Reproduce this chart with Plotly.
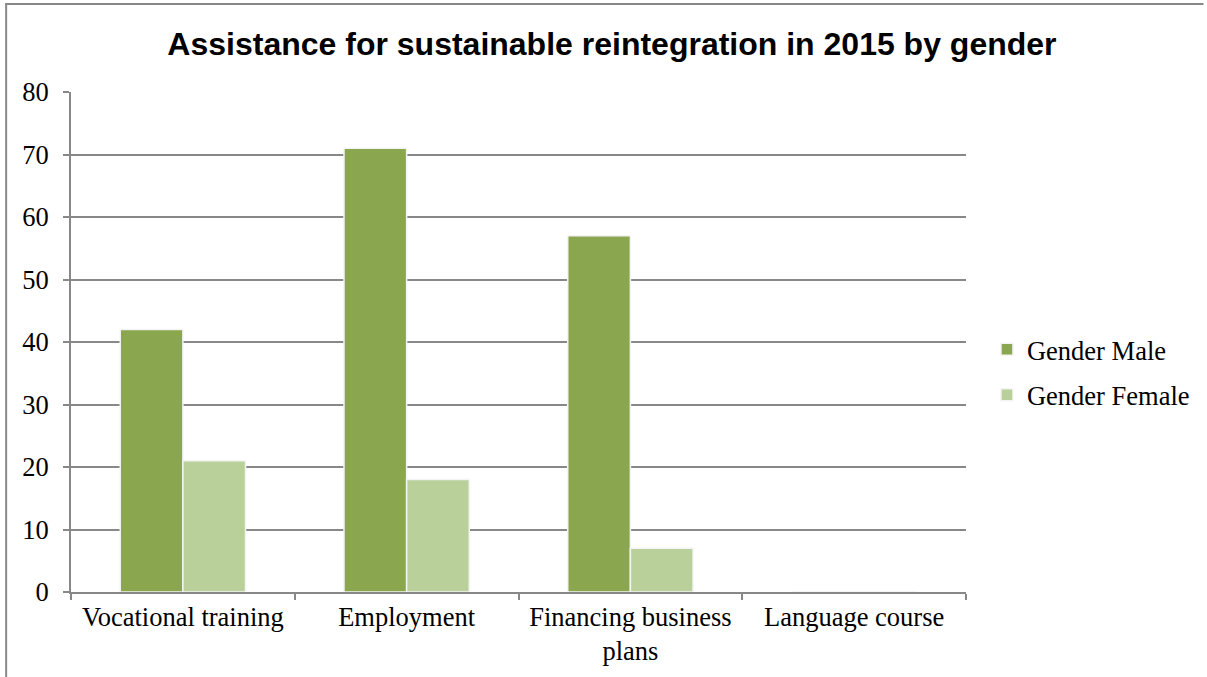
import plotly.graph_objects as go

# Assistance categories and counts per gender
categories = ["Vocational training", "Employment", "Financing business<br>plans", "Language course"]
male_values = [42, 71, 57, 0]
female_values = [21, 18, 7, 0]
y_ticks = [0, 10, 20, 30, 40, 50, 60, 70, 80]

MALE_COLOR = "#8AA64E"
FEMALE_COLOR = "#B9D09A"
GRID = "#888888"
SERIF = "Liberation Serif, Times New Roman, serif"
SANS = "Liberation Sans, Arial, sans-serif"
FS = 26.5

fig = go.Figure()
fig.add_trace(go.Bar(
    name="Gender Male", x=categories, y=male_values, legendgroup="male",
    marker=dict(color=MALE_COLOR, line=dict(color="#F4F4F4", width=1.5)),
))
fig.add_trace(go.Bar(
    name="Gender Female", x=categories, y=female_values, legendgroup="female",
    marker=dict(color=FEMALE_COLOR, line=dict(color="#F4F4F4", width=1.5)),
))

W, H = 1207, 677
L, R, T, B = 71, 239, 92, 85
pw, ph = W - L - R, H - T - B

def px_x(x):
    return (x - L) / pw

def px_y(y):
    return (H - B - y) / ph

# Outer frame lines (top and left)
fig.add_shape(type="line", xref="paper", yref="paper",
              x0=px_x(5), x1=px_x(W - 1), y0=px_y(4), y1=px_y(4),
              line=dict(color=GRID, width=2))
fig.add_shape(type="line", xref="paper", yref="paper",
              x0=px_x(6), x1=px_x(6), y0=px_y(4), y1=px_y(H),
              line=dict(color=GRID, width=2))

fig.update_layout(
    width=W, height=H,
    margin=dict(l=L, r=R, t=T, b=B, pad=0),
    paper_bgcolor="white", plot_bgcolor="white",
    barmode="group", bargap=0.44, bargroupgap=0.0,
    title=dict(
        text="<b>Assistance for sustainable reintegration in 2015 by gender</b>",
        font=dict(family=SANS, size=32, color="black"),
        x=0.507, xanchor="center", y=1 - 44 / H, yanchor="middle",
    ),
    font=dict(family=SERIF, size=FS, color="black"),
    legend=dict(
        x=px_x(989), xanchor="left", y=px_y(372), yanchor="middle",
        font=dict(family=SERIF, size=FS, color="black"),
        bgcolor="rgba(0,0,0,0)", itemwidth=30,
        traceorder="grouped", tracegroupgap=8,
    ),
    showlegend=True,
)

fig.update_xaxes(
    type="category", showgrid=False, showline=True, linecolor=GRID, linewidth=2,
    ticks="outside", tickson="boundaries", ticklen=6, tickwidth=2, tickcolor=GRID,
    tickfont=dict(family=SERIF, size=FS, color="black"),
    zeroline=False, fixedrange=True,
)
fig.update_yaxes(
    range=[0, 80], tickvals=y_ticks, showgrid=True, gridcolor=GRID, gridwidth=2,
    showline=True, linecolor=GRID, linewidth=2,
    ticks="outside", ticklen=6, tickwidth=2, tickcolor=GRID,
    ticklabelstandoff=9,
    tickfont=dict(family=SERIF, size=FS, color="black"),
    zeroline=False, fixedrange=True,
)

fig.write_html("out.html", config={"displayModeBar": False})
